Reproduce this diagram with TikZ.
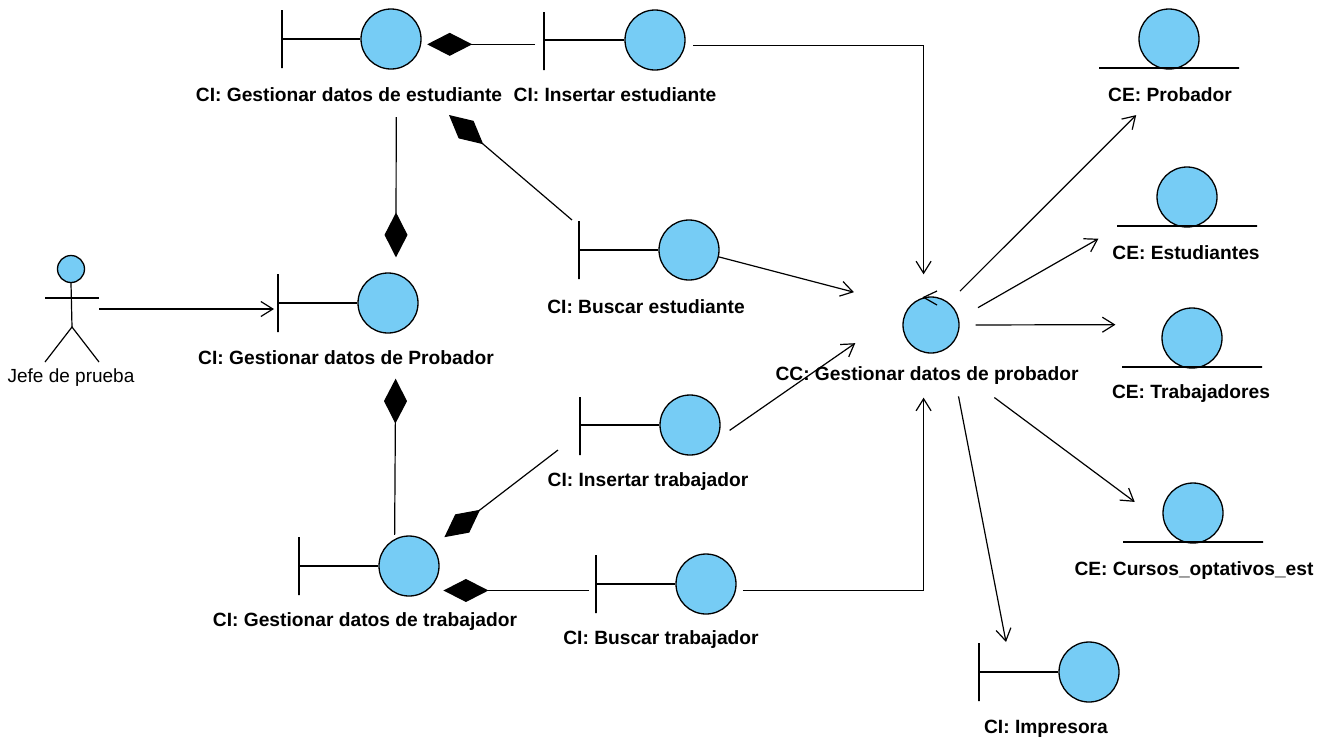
\documentclass[tikz,border=0pt]{standalone}
\usepackage{fontspec}
\setmainfont{Liberation Sans}
\usetikzlibrary{arrows.meta}
\definecolor{objfill}{HTML}{76CCF5}
\tikzset{
    objcircle/.style={draw, circle, fill=objfill, line width=1.3pt, inner sep=0pt, minimum size=60pt},
    boundbar/.style={draw, rectangle, line width=1.2pt, inner sep=0pt, minimum width=0pt, minimum height=58pt},
    entitybar/.style={draw, rectangle, line width=1.2pt, inner sep=0pt, minimum height=0pt, minimum width=140pt},
    objlabel/.style={font=\bfseries\fontsize{19.2}{21}\selectfont, inner sep=0pt, yshift=-0.5pt},
    actorlabel/.style={font=\fontsize{19}{20}\selectfont, inner sep=0pt, yshift=-1pt},
    stem/.style={line width=1.2pt},
    assoc/.style={line width=1.2pt, -{Straight Barb[length=12pt,width=15pt,line width=1.2pt]}},
    compos/.style={line width=1.2pt, -{Diamond[length=45pt,width=23pt,fill=black]}}
}
\begin{document}
\begin{tikzpicture}[x=1pt,y=-1pt]
        \useasboundingbox (0,0) rectangle (1332,740);

        % boundary objects
        \node[boundbar] (gestestbar) at (282,39) {};
        \node[objcircle] (gestest) at (391,39) {};
        \node[objlabel] (gestestlbl) at (349,94) {CI: Gestionar datos de estudiante};
        \node[boundbar] (insestbar) at (544,41) {};
        \node[objcircle] (insest) at (655,40) {};
        \node[objlabel] (insestlbl) at (615,94) {CI: Insertar estudiante};
        \node[boundbar] (buscestbar) at (579,250) {};
        \node[objcircle] (buscest) at (689,250) {};
        \node[objlabel] (buscestlbl) at (646,306) {CI: Buscar estudiante};
        \node[boundbar] (probbar) at (278,303) {};
        \node[objcircle] (prob) at (388,303) {};
        \node[objlabel] (problbl) at (346,357) {CI: Gestionar datos de Probador};
        \node[boundbar] (instrabbar) at (580,426) {};
        \node[objcircle] (instrab) at (690,425) {};
        \node[objlabel] (instrablbl) at (648,481) {CI: Insertar trabajador};
        \node[boundbar] (gesttrabbar) at (299,566) {};
        \node[objcircle] (gesttrab) at (409,566) {};
        \node[objlabel] (gesttrablbl) at (365,621) {CI: Gestionar datos de trabajador};
        \node[boundbar] (busctrabbar) at (596,584) {};
        \node[objcircle] (busctrab) at (706,584) {};
        \node[objlabel] (busctrablbl) at (661,639) {CI: Buscar trabajador};
        \node[boundbar] (imprbar) at (979,672) {};
        \node[objcircle] (impr) at (1089,672) {};
        \node[objlabel] (imprlbl) at (1046,728) {CI: Impresora};

        \path[draw,stem] (gestestbar) -- (gestest);
        \path[draw,stem] (insestbar |- insest) -- (insest);
        \path[draw,stem] (buscestbar) -- (buscest);
        \path[draw,stem] (probbar) -- (prob);
        \path[draw,stem] (instrabbar |- instrab) -- (instrab);
        \path[draw,stem] (gesttrabbar) -- (gesttrab);
        \path[draw,stem] (busctrabbar) -- (busctrab);
        \path[draw,stem] (imprbar) -- (impr);

        % control object
        \node[objcircle, minimum size=56pt] (cc) at (931,325) {};
        \node[objlabel] (cclbl) at (927,375) {CC: Gestionar datos de probador};

        % entity objects
        \node[objcircle] (ceprob) at (1169,39) {};
        \node[entitybar] (ceprobbar) at (1169,68) {};
        \node[objlabel] (ceproblbl) at (1170,94) {CE: Probador};
        \node[objcircle] (ceest) at (1187,197) {};
        \node[entitybar] (ceestbar) at (1187,226) {};
        \node[objlabel] (ceestlbl) at (1186,252) {CE: Estudiantes};
        \node[objcircle] (cetrab) at (1192,338) {};
        \node[entitybar] (cetrabbar) at (1192,367) {};
        \node[objlabel] (cetrablbl) at (1191,393) {CE: Trabajadores};
        \node[objcircle] (cecur) at (1193,513) {};
        \node[entitybar] (cecurbar) at (1193,542) {};
        \node[objlabel] (cecurlbl) at (1194,570) {CE: Cursos\_optativos\_est};

        % actor
        \node[objcircle, minimum size=27pt] (jefe) at (71,269) {};
        \node[actorlabel] (jefelbl) at (71,377) {Jefe de prueba};
        \coordinate (jefehip) at (72,327);
        \coordinate (jefearml) at (45,298);
        \coordinate (jefearmr) at (99,298);
        \coordinate (jefelegl) at (45,362);
        \coordinate (jefelegr) at (99,362);
        \coordinate (jefeout) at (99,309);
        \path[draw,stem] (jefe.south) -- (jefehip);
        \path[draw,stem] (jefearml) -- (jefearmr);
        \path[draw,stem] (jefelegl) -- (jefehip) -- (jefelegr);

        % free ends
        \coordinate (gestestin) at (449,115);
        \coordinate (buscestout) at (572,220);
        \coordinate (instrabout) at (558,450);
        \coordinate (imprin) at (1006,642);
        \coordinate (cchead1) at (937,291);
        \coordinate (cchead2) at (937,305);

        % composition
        \path[draw,compos,shorten <=9pt,shorten >=6pt] (insestbar |- gestest.-10) -- (gestest.-10);
        \path[draw,compos] (buscestout) -- (gestestin);
        \path[draw,compos,shorten <=48pt,shorten >=16pt] (gestest.-80) -- (prob.75);
        \path[draw,compos,shorten <=4pt,shorten >=46pt] (gesttrab.118) -- (prob.-75);
        \path[draw,compos,shorten >=15pt] (instrabout) -- (gesttrab.40);
        \path[draw,compos,shorten <=7pt,shorten >=16pt] (busctrabbar |- gesttrab.-53) -- (gesttrab.-53);

        % messages
        \path[draw,assoc,shorten >=4pt] (jefeout) -- (jefeout -| probbar);
        \path[draw,assoc,shorten <=8pt,shorten >=23pt] (insest.-10) -| (cc.105);
        \path[draw,stem] (cchead1) -- (cc.105) -- (cchead2);
        \path[draw,assoc,shorten >=57pt] (buscest.-13) -- (cc.140);
        \path[draw,assoc,shorten <=15pt,shorten >=68pt] (instrab.-27) -- (cc.134);
        \path[draw,assoc,shorten <=7pt,shorten >=45pt] (busctrab.-12) -| (cc.-105);
        \path[draw,assoc,shorten <=16pt,shorten >=77pt] (cc.52) -- (ceprob.-45);
        \path[draw,assoc,shorten <=22pt,shorten >=68pt] (cc.13) -- (ceest.195);
        \path[draw,assoc,shorten <=16pt,shorten >=49pt] (cc.east) -- (cetrab.154);
        \path[draw,assoc,shorten <=74pt,shorten >=37pt] (cc.-82) -- (cecur.201);
        \path[draw,assoc,shorten <=50pt] (cc.-51) -- (imprin);
    \end{tikzpicture}
\end{document}
